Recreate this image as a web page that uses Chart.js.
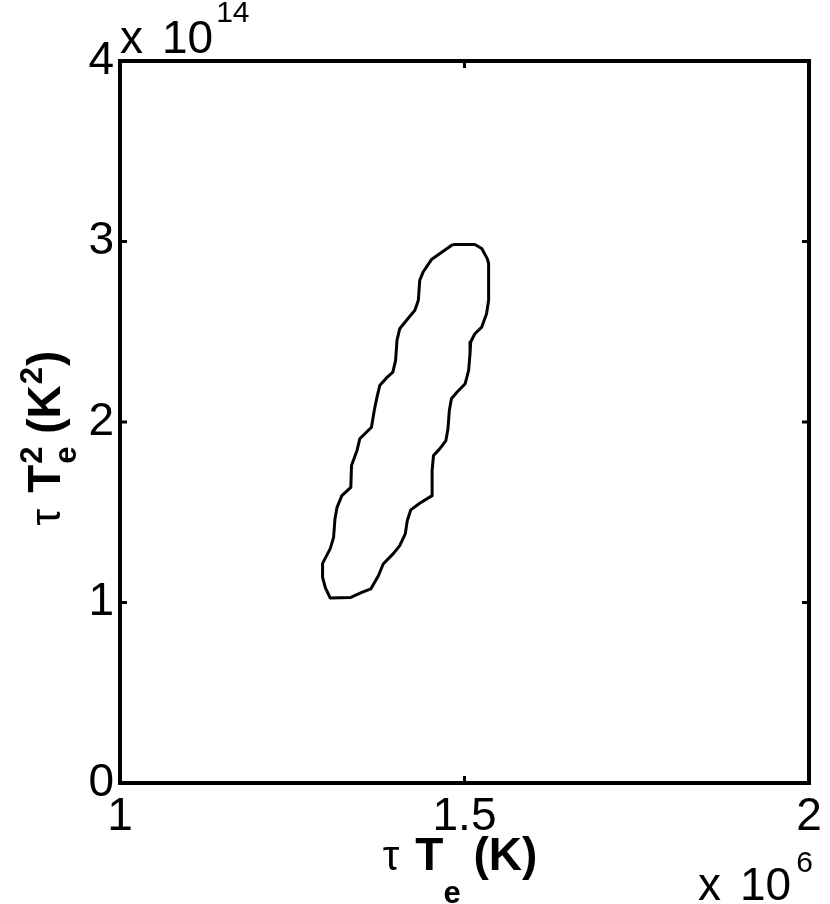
<!DOCTYPE html>
<html>
<head>
<meta charset="utf-8">
<title>tau Te contour</title>
<script src="https://cdn.jsdelivr.net/npm/chart.js@4/dist/chart.umd.min.js"></script>
<style>
  html, body { margin: 0; padding: 0; background: #fff; }
  #wrap { width: 830px; height: 904px; position: relative; }
</style>
</head>
<body>
<div id="wrap"><canvas id="chart" width="830" height="904"></canvas></div>
<script>
'use strict';

// ── Data (x in 10^6 K, y in 10^14 K^2) ─────────────────
const tauTe = [
  1.483, 1.515, 1.525, 1.533, 1.535, 1.535, 1.532, 1.525, 1.515, 1.509,
  1.508, 1.506, 1.501, 1.489, 1.481, 1.478, 1.476, 1.473, 1.464, 1.455,
  1.453, 1.453, 1.435, 1.422, 1.417, 1.414, 1.406, 1.397, 1.382, 1.375,
  1.364, 1.351, 1.335, 1.305, 1.298, 1.294, 1.294, 1.305, 1.310, 1.312,
  1.315, 1.322, 1.335, 1.336, 1.344, 1.348, 1.365, 1.369, 1.373, 1.377,
  1.388, 1.396, 1.400, 1.402, 1.406, 1.418, 1.428, 1.433, 1.435, 1.440,
  1.452, 1.483
];
const tauTe2 = [
  2.983, 2.983, 2.961, 2.905, 2.878, 2.674, 2.600, 2.526, 2.489, 2.443,
  2.378, 2.286, 2.212, 2.165, 2.129, 2.064, 1.962, 1.897, 1.851, 1.814,
  1.731, 1.592, 1.550, 1.513, 1.454, 1.380, 1.315, 1.272, 1.213, 1.148,
  1.075, 1.056, 1.028, 1.025, 1.083, 1.139, 1.217, 1.297, 1.361, 1.463,
  1.527, 1.592, 1.638, 1.759, 1.842, 1.907, 1.971, 2.064, 2.138, 2.202,
  2.249, 2.276, 2.341, 2.452, 2.517, 2.573, 2.619, 2.674, 2.785, 2.831,
  2.900, 2.983
];

const xTicks = [1, 1.5, 2];
const xTickLabels = ['1', '1.5', '2'];
const yTicks = [0, 1, 2, 3, 4];
const yTickLabels = ['0', '1', '2', '3', '4'];

const FONT = '"Liberation Sans", Arial, Helvetica, sans-serif';

// ── Helpers ────────────────────────────────────────────
// text run on one baseline; a part is [text, size, bold, dy, gapAfter]
// or {stack: [part, part]} to put a superscript over a subscript
function setFont(ctx, p) {
  ctx.font = (p[2] ? 'bold ' : '') + p[1] + 'px ' + FONT;
}
function partWidth(ctx, p) {
  if (p.stack) return Math.max(...p.stack.map((q) => partWidth(ctx, q)));
  setFont(ctx, p);
  return ctx.measureText(p[0]).width + (p[4] || 0);
}
function drawRich(ctx, parts, x, y, align) {
  const total = parts.reduce((s, p) => s + partWidth(ctx, p), 0);
  let cx = align === 'center' ? x - total / 2 : x;
  ctx.textAlign = 'left';
  ctx.textBaseline = 'alphabetic';
  parts.forEach((p) => {
    const list = p.stack || [p];
    list.forEach((q) => {
      setFont(ctx, q);
      ctx.fillText(q[0], cx, y + (q[3] || 0));
    });
    cx += partWidth(ctx, p);
  });
}

// ── Frame, inward ticks, titles ────────────────────────
const framePlugin = {
  id: 'matlabFrame',
  afterDraw(chart) {
    const { ctx, chartArea: a, scales } = chart;
    const xs = scales.x, ys = scales.y;
    const tick = 7;
    ctx.save();
    ctx.strokeStyle = '#000';
    ctx.lineWidth = 3;
    xTicks.forEach((v) => {
      const px = xs.getPixelForValue(v);
      ctx.beginPath();
      ctx.moveTo(px, a.bottom); ctx.lineTo(px, a.bottom - tick);
      ctx.moveTo(px, a.top); ctx.lineTo(px, a.top + tick);
      ctx.stroke();
    });
    yTicks.forEach((v) => {
      const py = ys.getPixelForValue(v);
      ctx.beginPath();
      ctx.moveTo(a.left, py); ctx.lineTo(a.left + tick, py);
      ctx.moveTo(a.right, py); ctx.lineTo(a.right - tick, py);
      ctx.stroke();
    });
    ctx.lineWidth = 4;
    ctx.strokeRect(a.left, a.top, a.right - a.left, a.bottom - a.top);

    ctx.fillStyle = '#000';
    // exponent labels
    drawRich(ctx, [['x', 46, false, 0, 19], ['10', 46, false, 0, 3], ['14', 30, false, -31]], a.left, 53, 'left');
    drawRich(ctx, [['x', 46, false, 0, 19], ['10', 46, false, 0, 5], ['6', 30, false, -28]], 698, 900, 'left');

    // x title
    drawRich(ctx, [
      ['\u03C4', 42, false, 0, 16],
      ['T', 46, true, 0],
      ['e', 31, true, 33],
      [' (K)', 46, true, 0],
    ], 460, 870, 'center');

    // y title (rotated)
    ctx.translate(60, 438);
    ctx.rotate(-Math.PI / 2);
    drawRich(ctx, [
      ['\u03C4', 42, false, 0, 16],
      ['T', 46, true, 0, 1],
      { stack: [['2', 31, true, -18], ['e', 31, true, 16]] },
      [' (K', 46, true, 0, 1],
      ['2', 31, true, -18, 1],
      [')', 46, true, 0],
    ], 0, 0, 'center');
    ctx.restore();
  },
};

// ── Chart ──────────────────────────────────────────────
const points = tauTe.map((x, i) => ({ x, y: tauTe2[i] }));

new Chart(document.getElementById('chart'), {
  type: 'scatter',
  data: {
    datasets: [{
      data: points,
      showLine: true,
      borderColor: '#000',
      borderWidth: 3,
      borderJoinStyle: 'round',
      pointRadius: 0,
      fill: false,
      tension: 0,
    }],
  },
  options: {
    responsive: false,
    animation: false,
    layout: { padding: { left: 0, top: 61, right: 21, bottom: 0 } },
    plugins: { legend: { display: false }, tooltip: { enabled: false } },
    scales: {
      x: {
        type: 'linear', min: 1, max: 2,
        afterBuildTicks: (s) => { s.ticks = xTicks.map((v) => ({ value: v })); },
        afterFit: (s) => { s.height = 121; },
        grid: { display: false, drawTicks: false },
        border: { display: false },
        ticks: {
          padding: 7,
          maxRotation: 0,
          color: '#000',
          font: { family: FONT, size: 46 },
          callback: (v) => xTickLabels[xTicks.indexOf(v)],
        },
      },
      y: {
        type: 'linear', min: 0, max: 4,
        afterBuildTicks: (s) => { s.ticks = yTicks.map((v) => ({ value: v })); },
        afterFit: (s) => { s.width = 120; },
        grid: { display: false, drawTicks: false },
        border: { display: false },
        ticks: {
          padding: 6,
          color: '#000',
          font: { family: FONT, size: 46 },
          callback: (v) => yTickLabels[yTicks.indexOf(v)],
        },
      },
    },
  },
  plugins: [framePlugin],
});
</script>
</body>
</html>
